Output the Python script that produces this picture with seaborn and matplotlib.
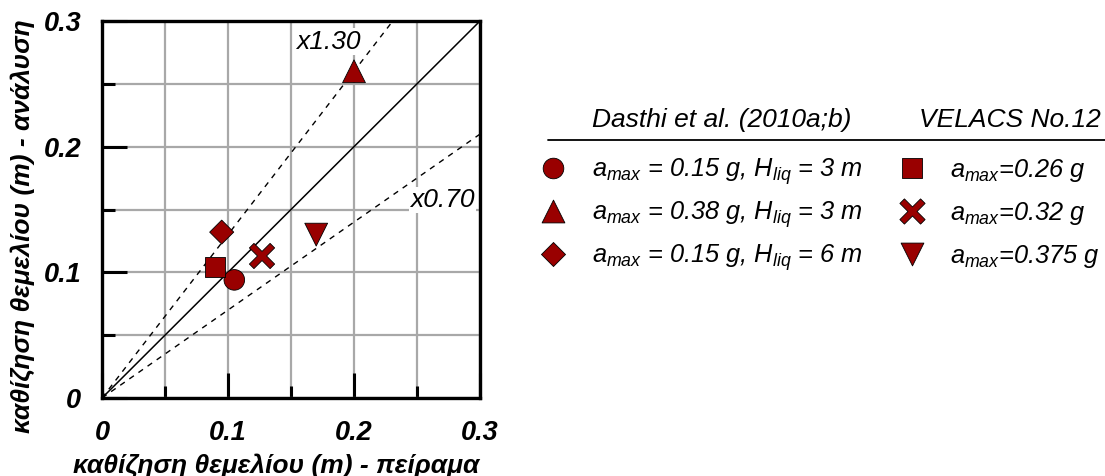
import numpy as np
import pandas as pd
import matplotlib
matplotlib.use("Agg")
import matplotlib.pyplot as plt
from matplotlib.path import Path
import seaborn as sns

# --- data -------------------------------------------------------------
cases = ["d015_3", "d038_3", "d015_6", "v026", "v032", "v0375"]
measured = [0.105, 0.200, 0.095, 0.090, 0.127, 0.170]      # πείραμα
computed = [0.094, 0.260, 0.132, 0.104, 0.113, 0.130]      # ανάλυση
size_of = [220, 270, 150, 210, 330, 270]

dasthi_labels = [r"$a_{max}$ = 0.15 g, $H_{liq}$ = 3 m",
                 r"$a_{max}$ = 0.38 g, $H_{liq}$ = 3 m",
                 r"$a_{max}$ = 0.15 g, $H_{liq}$ = 6 m"]
velacs_labels = [r"$a_{max}$=0.26 g",
                 r"$a_{max}$=0.32 g",
                 r"$a_{max}$=0.375 g"]
ratios = [1.30, 0.70]
ticks = [0, 0.1, 0.2, 0.3]
tick_labels = ["0", "0.1", "0.2", "0.3"]

# slimmer filled cross than matplotlib's built-in "X"
c = 0.36
_cross = Path(np.array([(c, 0), (1, 1 - c), (1 - c, 1), (0, c),
                        (-(1 - c), 1), (-1, 1 - c), (-c, 0),
                        (-1, -(1 - c)), (-(1 - c), -1), (0, -c),
                        (1 - c, -1), (1, -(1 - c)), (c, 0)]),
              closed=True)
marker_of = ["o", "^", "D", "s", _cross, "v"]

sns.set_theme(style="white")
plt.rcParams["font.family"] = ["Liberation Sans", "DejaVu Sans"]
plt.rcParams["mathtext.fontset"] = "custom"
plt.rcParams["mathtext.it"] = "Liberation Sans:italic"
plt.rcParams["mathtext.rm"] = "Liberation Sans:italic"
for key in ("text.color", "axes.labelcolor", "xtick.color", "ytick.color"):
    plt.rcParams[key] = "black"

RED = "#990000"

fig = plt.figure(figsize=(11.05, 4.76), dpi=100)
ax = fig.add_axes([102 / 1105, 78 / 476, 378 / 1105, 377 / 476])

df = pd.DataFrame({"case": cases, "x": measured, "y": computed})

# reference lines: 1:1 and ±30 %
line = np.array([0.0, 0.3])
ax.plot(line, line, color="black", lw=1.1, zorder=2)
for r in ratios:
    xe = min(0.3, 0.3 / r)
    ax.plot([0, xe], [0, r * xe], color="black", lw=1.0,
            dashes=(4, 4), zorder=2)

sns.scatterplot(data=df, x="x", y="y", style="case", size="case",
                markers=dict(zip(cases, marker_of)),
                sizes=dict(zip(cases, size_of)),
                color=RED, edgecolor="black", linewidth=0.6,
                legend=False, ax=ax, zorder=4)

ax.text(0.18, 0.2835, "x1.30", fontsize=19, style="italic",
        ha="center", va="center", zorder=3,
        bbox=dict(facecolor="white", edgecolor="none", pad=1))
ax.text(0.27, 0.1575, "x0.70", fontsize=19, style="italic",
        ha="center", va="center", zorder=3,
        bbox=dict(facecolor="white", edgecolor="none", pad=1))

ax.set_xlim(0, 0.3)
ax.set_ylim(0, 0.3)
ax.set_xticks(ticks)
ax.set_yticks(ticks)
ax.set_xticklabels(tick_labels)
ax.set_yticklabels(tick_labels)
ax.set_xticks([0.05, 0.15, 0.25], minor=True)
ax.set_yticks([0.05, 0.15, 0.25], minor=True)
ax.grid(True, which="both", color="#a8a8a8", lw=1.6, zorder=1)
ax.set_axisbelow(True)
for lab in ax.get_xticklabels() + ax.get_yticklabels():
    lab.set_fontweight("bold")
    lab.set_fontstyle("italic")
    lab.set_fontsize(19.5)
ax.tick_params(axis="both", which="major", direction="in", length=18,
               width=2.2, color="black", bottom=True, left=True,
               top=False, right=False)
ax.tick_params(axis="both", which="minor", direction="in", length=9,
               width=2.2, color="black", bottom=True, left=True,
               top=False, right=False)
ax.tick_params(axis="x", which="major", pad=16)
ax.tick_params(axis="y", which="major", pad=15)
for sp in ax.spines.values():
    sp.set_color("black")
    sp.set_linewidth(2.4)

ax.set_xlabel("καθίζηση θεμελίου (m) - πείραμα", fontsize=19,
              fontweight="bold", fontstyle="italic")
ax.set_ylabel("καθίζηση θεμελίου (m) - ανάλυση", fontsize=19,
              fontweight="bold", fontstyle="italic")
ax.xaxis.set_label_coords(0.46, -0.147)
ax.yaxis.set_label_coords(-0.178, 0.457)

# --- legend table drawn in figure pixel coordinates ---------------------
lg = fig.add_axes([0, 0, 1, 1], facecolor="none")
lg.set_xlim(0, 1105)
lg.set_ylim(476, 0)
lg.axis("off")

lg.text(592, 127, "Dasthi et al. (2010a;b)", fontsize=19, style="italic",
        ha="left", va="baseline")
lg.text(1101, 127, "VELACS No.12", fontsize=19, style="italic",
        ha="right", va="baseline")
lg.plot([548, 1105], [140, 140], color="black", lw=1.3)

rows_y = [168, 211, 254]
for i, yy in enumerate(rows_y):
    lg.scatter([553], [yy], marker=marker_of[i], s=size_of[i], color=RED,
               edgecolor="black", linewidth=0.6)
    lg.text(592, yy + 9, dasthi_labels[i], fontsize=18.3, style="italic",
            ha="left", va="baseline")
    lg.scatter([912], [yy], marker=marker_of[3 + i], s=size_of[3 + i],
               color=RED, edgecolor="black", linewidth=0.6)
    lg.text(950, yy + 9, velacs_labels[i], fontsize=18.3, style="italic",
            ha="left", va="baseline")

fig.savefig("out.png", dpi=100)
